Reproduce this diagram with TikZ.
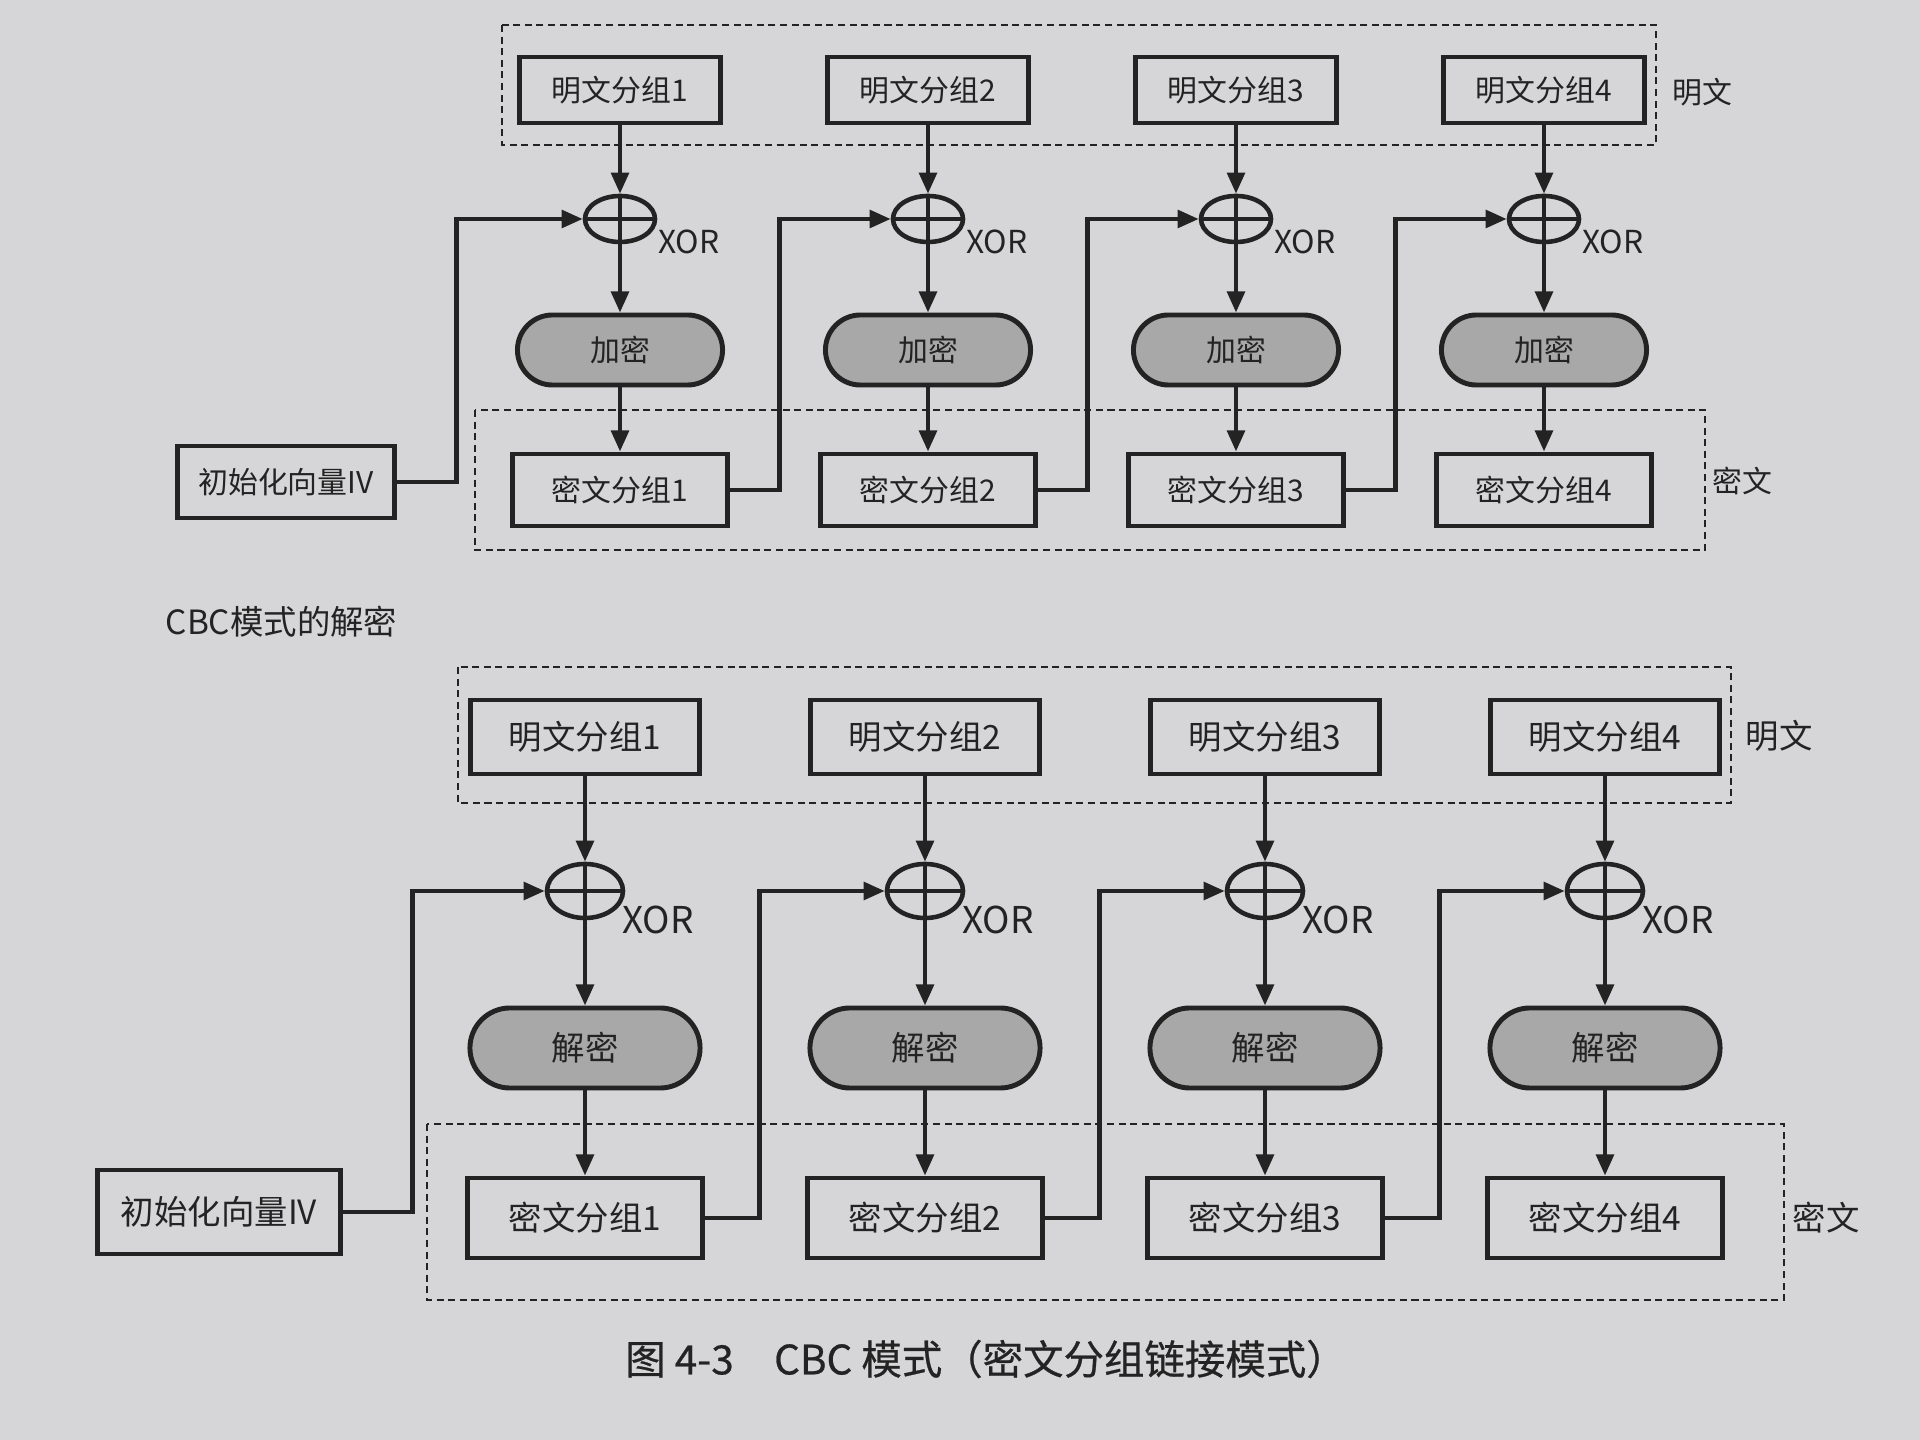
\documentclass[tikz,border=0pt]{standalone}
\usepackage{fontspec}
\setmainfont{Noto Sans CJK SC}
\newfontfamily\capfont[FakeBold=0.6]{Noto Sans CJK SC}
\usetikzlibrary{shapes.misc,shapes.geometric,arrows.meta}
\definecolor{page}{RGB}{214,214,216}
\definecolor{ink}{RGB}{35,35,35}
\definecolor{procfill}{RGB}{168,168,168}
\begin{document}
\begin{tikzpicture}[x=0.01cm,y=-0.01cm,
  box/.style={draw=ink,line width=1.4pt,rectangle,inner sep=0pt,text=ink},
  proc/.style={draw=ink,line width=1.4pt,rounded rectangle,fill=procfill,inner sep=0pt,text=ink},
  xorc/.style={draw=ink,line width=1.3pt,ellipse,inner sep=0pt,
    path picture={\draw[ink,line width=1.3pt] (path picture bounding box.west) -- (path picture bounding box.east)
      (path picture bounding box.north) -- (path picture bounding box.south);}},
  arr/.style={draw=ink,line width=1.2pt,-{Triangle[length=6pt,width=5pt]}},
  grp/.style={draw=ink,line width=0.45pt,dash pattern=on 2pt off 1.3pt},
  ttop/.style={font=\fontsize{8.5}{10}\selectfont},
  tbot/.style={font=\fontsize{9.5}{11}\selectfont},
  lbl/.style={text=ink,inner sep=0pt}
]
\useasboundingbox[fill=page] (0,0) rectangle (1920,1440);

% ---------------- top: encryption ----------------
\draw[grp] (502,25) rectangle (1656,145);
\draw[grp] (475,410) rectangle (1705,550);
\node[lbl,ttop] (tpl) at (1702,92) {明文};
\node[lbl,ttop] (tcl) at (1742,481) {密文};

\foreach \i/\x in {1/620,2/928,3/1236,4/1544} {
  \node[box,ttop,minimum width=2.0cm,minimum height=0.66cm] (tp\i) at (\x,90) {明文分组\i};
  \node[xorc,minimum width=0.70cm,minimum height=0.46cm] (tx\i) at (\x,219) {};
  \node[lbl,font=\fontsize{9}{10}\selectfont,anchor=north west] (txl\i) at ([yshift=-3pt]tx\i.east) {XOR};
  \node[proc,ttop,minimum width=2.05cm,minimum height=0.70cm] (te\i) at (\x,350) {加密};
  \node[box,ttop,minimum width=2.14cm,minimum height=0.72cm] (tc\i) at (\x,490) {密文分组\i};
  \draw[arr] (tp\i.south) -- (tx\i.north);
  \draw[arr] (tx\i.south) -- (te\i.north);
  \draw[arr] (te\i.south) -- (tc\i.north);
}
\node[box,ttop,minimum width=2.16cm,minimum height=0.72cm] (tiv) at (286,482) {初始化向量IV};
\draw[arr] (tiv.east) -- ++(60,0) |- (tx1.west);
\foreach \a/\b in {1/2,2/3,3/4}
  \draw[arr] (tc\a.east) -- ++(50,0) |- (tx\b.west);

% ---------------- heading ----------------
\node[lbl,font=\fontsize{9.5}{11}\selectfont,anchor=west] (head) at (165,622) {CBC模式的解密};

% ---------------- bottom: decryption ----------------
\draw[grp] (458,667) rectangle (1731,803);
\draw[grp] (427,1124) rectangle (1784,1300);
\node[lbl,tbot] (bpl) at (1779,736) {明文};
\node[lbl,tbot] (bcl) at (1826,1218) {密文};

\foreach \i/\x in {1/585,2/925,3/1265,4/1605} {
  \node[box,tbot,minimum width=2.28cm,minimum height=0.74cm] (bp\i) at (\x,737) {明文分组\i};
  \node[xorc,minimum width=0.76cm,minimum height=0.54cm] (bx\i) at (\x,891) {};
  \node[lbl,font=\fontsize{10.5}{12}\selectfont,anchor=north west] (bxl\i) at ([xshift=-1pt,yshift=-4pt]bx\i.east) {XOR};
  \node[proc,tbot,minimum width=2.30cm,minimum height=0.80cm] (bd\i) at (\x,1048) {解密};
  \node[box,tbot,minimum width=2.34cm,minimum height=0.80cm] (bc\i) at (\x,1218) {密文分组\i};
  \draw[arr] (bp\i.south) -- (bx\i.north);
  \draw[arr] (bx\i.south) -- (bd\i.north);
  \draw[arr] (bd\i.south) -- (bc\i.north);
}
\node[box,tbot,minimum width=2.42cm,minimum height=0.84cm] (biv) at (219,1212) {初始化向量IV};
\draw[arr] (biv.east) -- ++(70,0) |- (bx1.west);
\foreach \a/\b in {1/2,2/3,3/4}
  \draw[arr] (bc\a.east) -- ++(55,0) |- (bx\b.west);

% ---------------- caption ----------------
\node[lbl,font=\fontsize{11.5}{13}\selectfont\capfont] (cap) at (986,1359) {图 4-3\quad CBC 模式（密文分组链接模式）};
\end{tikzpicture}
\end{document}
